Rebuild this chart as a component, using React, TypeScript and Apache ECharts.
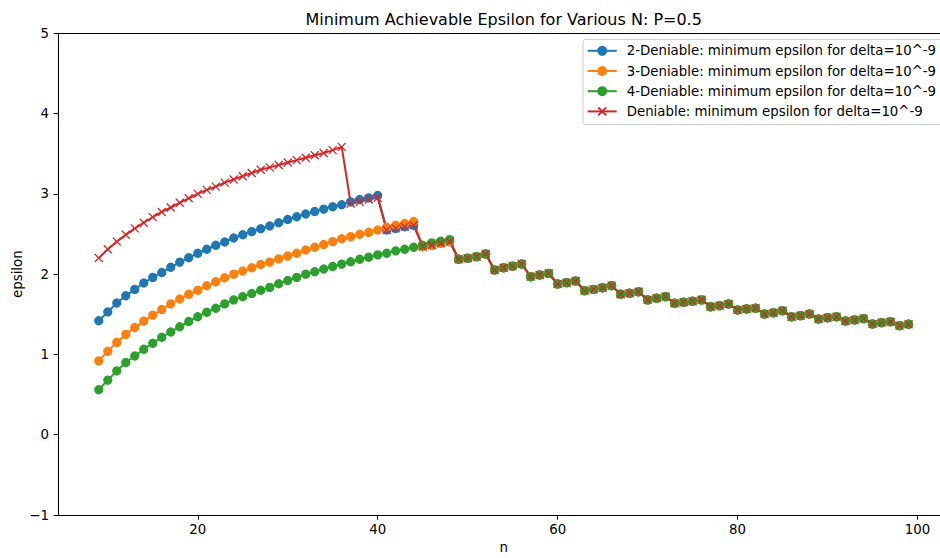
import { useEffect, useRef } from "react";
import * as echarts from "echarts";

// Number of participants n on the x axis.
const N_VALUES = [
  9, 10, 11, 12, 13, 14, 15, 16, 17, 18, 19, 20, 21, 22, 23, 24, 25, 26, 27, 28,
  29, 30, 31, 32, 33, 34, 35, 36, 37, 38, 39, 40, 41, 42, 43, 44, 45, 46, 47, 48,
  49, 50, 51, 52, 53, 54, 55, 56, 57, 58, 59, 60, 61, 62, 63, 64, 65, 66, 67, 68,
  69, 70, 71, 72, 73, 74, 75, 76, 77, 78, 79, 80, 81, 82, 83, 84, 85, 86, 87, 88,
  89, 90, 91, 92, 93, 94, 95, 96, 97, 98, 99,
];

// Each k-deniable curve follows its own bound for small n (n = 9 ... )
const TWO_DENIABLE_HEAD = [
  1.42, 1.53, 1.64, 1.73, 1.81, 1.89, 1.96, 2.02, 2.085, 2.15, 2.205, 2.26, 2.31,
  2.36, 2.4, 2.45, 2.49, 2.53, 2.565, 2.6, 2.64, 2.68, 2.715, 2.75, 2.78, 2.81,
  2.84, 2.865, 2.9, 2.93, 2.95, 2.98,
];
const THREE_DENIABLE_HEAD = [
  0.92, 1.04, 1.15, 1.25, 1.335, 1.415, 1.49, 1.56, 1.63, 1.69, 1.75, 1.8, 1.855,
  1.905, 1.955, 2.0, 2.04, 2.08, 2.12, 2.15, 2.19, 2.225, 2.26, 2.3, 2.335, 2.37,
  2.405, 2.44, 2.467, 2.497, 2.52, 2.55, 2.585, 2.61, 2.63, 2.655,
];
const FOUR_DENIABLE_HEAD = [
  0.56, 0.68, 0.795, 0.9, 0.98, 1.065, 1.14, 1.215, 1.28, 1.345, 1.41, 1.47, 1.525,
  1.575, 1.63, 1.68, 1.72, 1.76, 1.8, 1.835, 1.88, 1.92, 1.96, 2.0, 2.03, 2.065,
  2.095, 2.125, 2.155, 2.185, 2.21, 2.24, 2.26, 2.29, 2.31, 2.335, 2.36, 2.39,
  2.41, 2.43,
];
const DENIABLE_HEAD = [
  2.2, 2.31, 2.405, 2.49, 2.57, 2.64, 2.71, 2.775, 2.83, 2.89, 2.945, 3.0, 3.05,
  3.09, 3.14, 3.18, 3.22, 3.26, 3.3, 3.33, 3.36, 3.39, 3.42, 3.45, 3.48, 3.51,
  3.545, 3.585,
];

// ... and then joins the common stepped minimum, listed here from n = 37 to 99.
const TAIL_FIRST_N = 37;
const SHARED_TAIL = [
  2.88, 2.9, 2.93, 2.95,
  2.55, 2.57, 2.59, 2.61,
  2.345, 2.36, 2.385, 2.405,
  2.185, 2.198, 2.218, 2.25,
  2.052, 2.08, 2.1, 2.127,
  1.969, 1.99, 2.01,
  1.878, 1.894, 1.915,
  1.795, 1.81, 1.83, 1.857,
  1.75, 1.762, 1.78,
  1.68, 1.7, 1.72,
  1.638, 1.65, 1.662, 1.68,
  1.595, 1.608, 1.629,
  1.554, 1.567, 1.575,
  1.504, 1.52, 1.545,
  1.47, 1.483, 1.504,
  1.442, 1.458, 1.47,
  1.417, 1.43, 1.446,
  1.38, 1.396, 1.408,
  1.359, 1.376,
];

const X_TICKS = [20, 40, 60, 80, 100];

const SERIES_NAMES = [
  "2-Deniable: minimum epsilon for delta=10^-9",
  "3-Deniable: minimum epsilon for delta=10^-9",
  "4-Deniable: minimum epsilon for delta=10^-9",
  "Deniable: minimum epsilon for delta=10^-9",
];
const SERIES_COLORS = ["#1f77b4", "#ff7f0e", "#2ca02c", "#d62728"];

const FONT = '"DejaVu Sans", sans-serif';
const CROSS = "path://M0,0L10,10M10,0L0,10";

function withTail(head: number[]): number[] {
  const startN = N_VALUES[head.length];
  return head.concat(SHARED_TAIL.slice(startN - TAIL_FIRST_N));
}

function lineSeries(name: string, values: number[], color: string, cross: boolean) {
  return {
    type: "line",
    name,
    data: N_VALUES.map((n, i) => [n, values[i]]),
    xAxisIndex: 0,
    yAxisIndex: 0,
    symbol: cross ? CROSS : "circle",
    symbolSize: 8,
    showSymbol: true,
    lineStyle: { color, width: 2 },
    itemStyle: { color, borderColor: color, borderWidth: 1.33 },
    emphasis: { disabled: true },
  };
}

const spine = { show: true, onZero: false, lineStyle: { color: "#000", width: 1.07 } };
const tickLine = { color: "#000", width: 1.07 };
const tickText = { fontFamily: FONT, fontSize: 13.33, color: "#000" };

export default function App() {
  const ref = useRef<HTMLDivElement>(null);

  useEffect(() => {
    const chart = echarts.init(ref.current!, null, { renderer: "svg" });
    const heads = [TWO_DENIABLE_HEAD, THREE_DENIABLE_HEAD, FOUR_DENIABLE_HEAD, DENIABLE_HEAD];
    chart.setOption({
      animation: false,
      backgroundColor: "#fff",
      title: {
        text: "Minimum Achievable Epsilon for Various N: P=0.5",
        left: 503.7,
        top: 11.5,
        textAlign: "center",
        padding: 0,
        textStyle: { fontFamily: FONT, fontSize: 16, fontWeight: "normal", color: "#000" },
      },
      legend: {
        orient: "vertical",
        left: 583,
        top: 39.3,
        align: "left",
        padding: [3.6, 10, 5.3, 3.7],
        itemWidth: 29,
        itemHeight: 10,
        itemGap: 4.4,
        backgroundColor: "rgba(255,255,255,0.8)",
        borderColor: "#cccccc",
        borderWidth: 1,
        borderRadius: 3,
        textStyle: { fontFamily: FONT, fontSize: 13.33, color: "#000", lineHeight: 15.8, padding: [0, 0, 0, 5] },
        data: SERIES_NAMES,
      },
      grid: {
        left: 58.3,
        top: 33.3,
        width: 890.7,
        height: 481.7,
        containLabel: false,
        outerBoundsMode: "none",
      },
      xAxis: [
        {
          type: "value",
          position: "bottom",
          min: 4.5,
          max: 103.5,
          axisLine: spine,
          axisTick: { show: true, length: 4.67, customValues: X_TICKS, lineStyle: tickLine },
          axisLabel: { ...tickText, margin: 8, customValues: X_TICKS },
          splitLine: { show: false },
          name: "n",
          nameLocation: "middle",
          nameGap: 26,
          nameMoveOverlap: false,
          nameTextStyle: tickText,
        },
        {
          type: "value",
          position: "top",
          min: 4.5,
          max: 103.5,
          axisLine: spine,
          axisTick: { show: false },
          axisLabel: { show: false },
          splitLine: { show: false },
        },
      ],
      yAxis: [
        {
          type: "value",
          position: "left",
          min: -1,
          max: 5,
          interval: 1,
          axisLine: spine,
          axisTick: { show: true, length: 4.67, lineStyle: tickLine },
          axisLabel: {
            ...tickText,
            margin: 9.4,
            formatter: (v: number) => String(v).replace("-", "\u2212"),
          },
          splitLine: { show: false },
          name: "epsilon",
          nameLocation: "middle",
          nameGap: 34,
          nameMoveOverlap: false,
          nameTextStyle: tickText,
        },
        {
          type: "value",
          position: "right",
          min: -1,
          max: 5,
          axisLine: spine,
          axisTick: { show: false },
          axisLabel: { show: false },
          splitLine: { show: false },
        },
      ],
      series: heads.map((head, i) =>
        lineSeries(SERIES_NAMES[i], withTail(head), SERIES_COLORS[i], i === 3)
      ),
    });
    return () => chart.dispose();
  }, []);

  return (
    <div
      ref={ref}
      style={{ position: "fixed", left: 0, top: 0, width: 940, height: 558, background: "#fff" }}
    />
  );
}
